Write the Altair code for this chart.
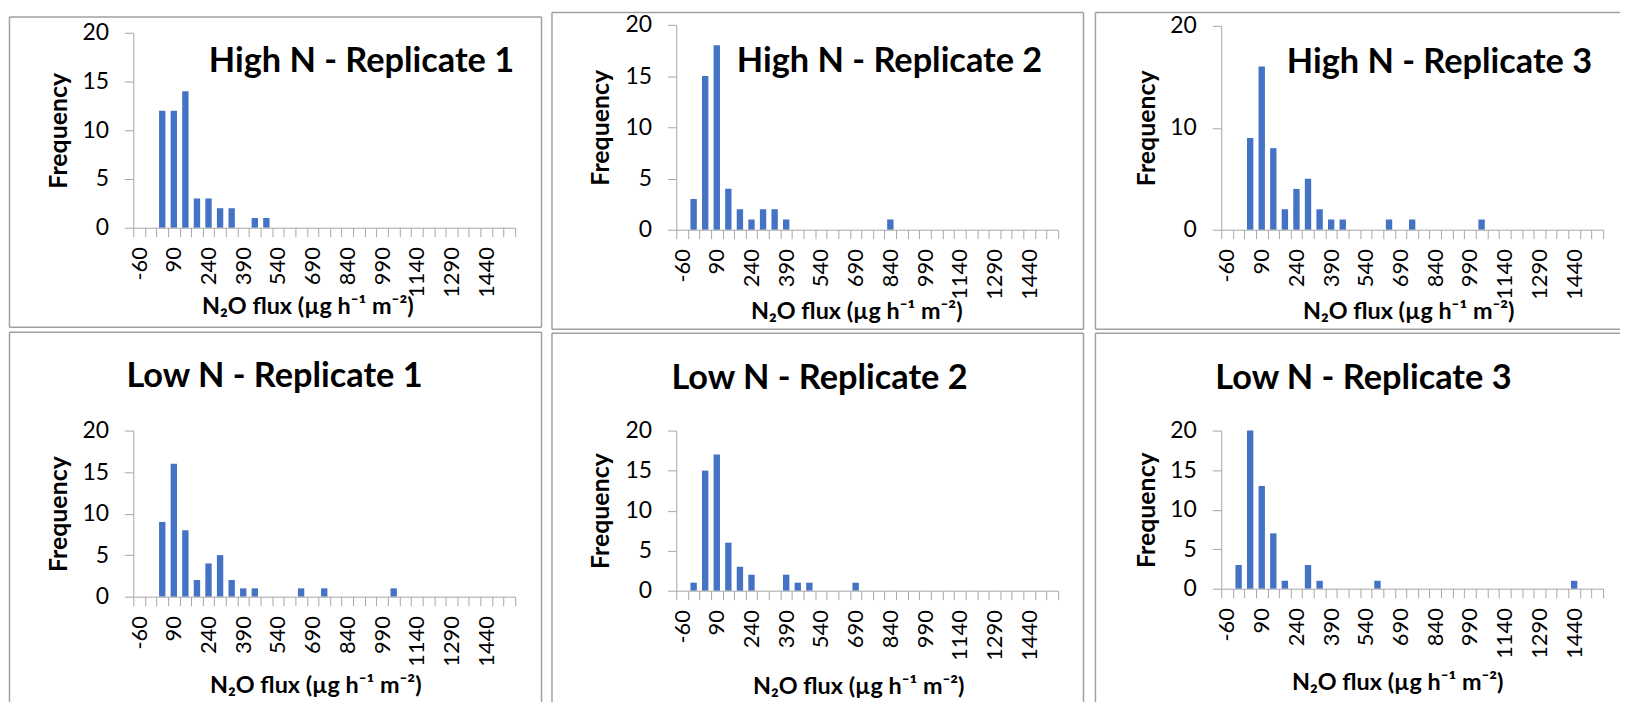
import altair as alt
import pandas as pd

# ---------------- data ----------------
categories = ["-60", "-10", "40", "90", "140", "190", "240", "290", "340", "390", "440",
              "490", "540", "590", "640", "690", "740", "790", "840", "890", "940", "990",
              "1040", "1090", "1140", "1190", "1240", "1290", "1340", "1390", "1440",
              "1490", "1540"]
tick_labels = ["-60", "90", "240", "390", "540", "690", "840", "990", "1140", "1290", "1440"]

y_ticks = [0, 5, 10, 15, 20]
y_ticks_wide = [0, 10, 20]

panel_titles = ["High N - Replicate 1", "High N - Replicate 2", "High N - Replicate 3",
                "Low N - Replicate 1", "Low N - Replicate 2", "Low N - Replicate 3"]

high_n_rep1 = [0, 0, 12, 12, 14, 3, 3, 2, 2, 0, 1, 1, 0, 0, 0, 0, 0, 0, 0, 0, 0, 0,
               0, 0, 0, 0, 0, 0, 0, 0, 0, 0, 0]
high_n_rep2 = [0, 3, 15, 18, 4, 2, 1, 2, 2, 1, 0, 0, 0, 0, 0, 0, 0, 0, 1, 0, 0, 0,
               0, 0, 0, 0, 0, 0, 0, 0, 0, 0, 0]
high_n_rep3 = [0, 0, 9, 16, 8, 2, 4, 5, 2, 1, 1, 0, 0, 0, 1, 0, 1, 0, 0, 0, 0, 0,
               1, 0, 0, 0, 0, 0, 0, 0, 0, 0, 0]
low_n_rep1 = [0, 0, 9, 16, 8, 2, 4, 5, 2, 1, 1, 0, 0, 0, 1, 0, 1, 0, 0, 0, 0, 0,
              1, 0, 0, 0, 0, 0, 0, 0, 0, 0, 0]
low_n_rep2 = [0, 1, 15, 17, 6, 3, 2, 0, 0, 2, 1, 1, 0, 0, 0, 1, 0, 0, 0, 0, 0, 0,
              0, 0, 0, 0, 0, 0, 0, 0, 0, 0, 0]
low_n_rep3 = [0, 3, 20, 13, 7, 1, 0, 3, 1, 0, 0, 0, 0, 1, 0, 0, 0, 0, 0, 0, 0, 0,
              0, 0, 0, 0, 0, 0, 0, 0, 1, 0, 0]

x_title = "N₂O flux (µg h⁻¹ m⁻²)"
y_title = "Frequency"

# ---------------- style / layout ----------------
FONT = "Lato"
BLUE = "#4472C4"
AXIS_GRAY = "#A6A6A6"
BOX_GRAY = "#A0A0A0"

# plot-area geometry and decorations, in pixels relative to each plot origin
layouts = [
    dict(w=384, h=196, slot=(-125, 415, -22, 298), box=(-124.5, 410.5, -16, 296), right=True, bottom=True,
         title=(383, 39, "right"), yt=-67, xt=(175, 86), yv="n"),
    dict(w=384, h=206, slot=(-131, 415, -13, 308), box=(-125, 409.5, -12.5, 306), right=True, bottom=True,
         title=(368, 47, "right"), yt=-68, xt=(181, 89), yv="n"),
    dict(w=384, h=205, slot=(-133, 401, -14, 306), box=(-126.5, 401, -13.5, 305), right=False, bottom=True,
         title=(373, 47, "right"), yt=-67.5, xt=(188, 89), yv="w"),
    dict(w=384, h=167, slot=(-125, 415, -100, 273), box=(-124.5, 410.5, -99, 273), right=True, bottom=False,
         title=(142, -44, "center"), yt=-67, xt=(183, 96), yv="n"),
    dict(w=384, h=161, slot=(-131, 415, -100, 273), box=(-125, 409.5, -98, 273), right=True, bottom=False,
         title=(144, -42, "center"), yt=-68, xt=(183, 103), yv="n"),
    dict(w=384, h=159, slot=(-133, 401, -100, 273), box=(-126.5, 401, -98, 273), right=False, bottom=False,
         title=(143, -42, "center"), yt=-67, xt=(177, 101), yv="n"),
]

label_expr = ("indexof([" + ",".join("'" + t + "'" for t in tick_labels) +
              "], datum.label) >= 0 ? datum.label : ''")

one = pd.DataFrame({"k": [0]})


def panel(title, counts, L):
    df = pd.DataFrame({"bin": categories, "count": counts})
    x = alt.X(
        "bin:O", sort=categories,
        scale=alt.Scale(domain=categories, paddingInner=0, paddingOuter=0),
        axis=alt.Axis(
            title=x_title, labelExpr=label_expr, labelAngle=-90, labelAlign="right",
            labelBaseline="middle", labelFont=FONT, labelFontSize=22, labelColor="black",
            labelPadding=10, labelOverlap=False, tickBand="extent", tickSize=9,
            tickColor=AXIS_GRAY, tickWidth=1, domainColor=AXIS_GRAY, domainWidth=1,
            titleFont=FONT, titleFontSize=23.5, titleFontWeight="bold", titleColor="black",
            titleX=L["xt"][0], titleY=L["xt"][1], titleAlign="center",
            titleBaseline="alphabetic", grid=False, zindex=2),
    )
    y = alt.Y(
        "count:Q",
        scale=alt.Scale(domain=[0, 20], nice=False),
        axis=alt.Axis(
            title=y_title, values=(y_ticks if L["yv"] == "n" else y_ticks_wide),
            labelFont=FONT, labelFontSize=23, labelColor="black", labelPadding=16,
            tickSize=9, tickColor=AXIS_GRAY, tickWidth=1, domainColor=AXIS_GRAY,
            domainWidth=1, grid=False, titleFont=FONT, titleFontSize=25,
            titleFontWeight="bold", titleColor="black", titleX=L["yt"], titleY=L["h"] / 2,
            titleAngle=-90, titleAlign="center", titleBaseline="alphabetic", zindex=2),
    )
    bars = alt.Chart(df).mark_bar(color=BLUE, width=alt.RelativeBandSize(0.55)).encode(x=x, y=y)

    sx1, sx2, sy1, sy2 = L["slot"]
    slot = alt.Chart(one).mark_rect(fill="white").encode(
        x=alt.value(sx1), x2=alt.value(sx2), y=alt.value(sy1), y2=alt.value(sy2))

    bx1, bx2, by1, by2 = L["box"]
    rule = dict(color=BOX_GRAY, strokeWidth=1.5)
    edges = [
        alt.Chart(one).mark_rule(**rule).encode(x=alt.value(bx1), x2=alt.value(bx2), y=alt.value(by1)),
        alt.Chart(one).mark_rule(**rule).encode(x=alt.value(bx1), y=alt.value(by1), y2=alt.value(by2)),
    ]
    if L["right"]:
        edges.append(alt.Chart(one).mark_rule(**rule).encode(
            x=alt.value(bx2), y=alt.value(by1), y2=alt.value(by2)))
    if L["bottom"]:
        edges.append(alt.Chart(one).mark_rule(**rule).encode(
            x=alt.value(bx1), x2=alt.value(bx2), y=alt.value(by2)))

    tx, ty, talign = L["title"]
    ttl = alt.Chart(one).mark_text(
        font=FONT, fontSize=34.5, fontWeight="bold", color="black", align=talign,
        baseline="alphabetic").encode(x=alt.value(tx), y=alt.value(ty), text=alt.value(title))

    return alt.layer(slot, *edges, bars, ttl).properties(width=L["w"], height=L["h"])


def spacer():
    # 1px invisible cell: lets each panel of the first row sit on its own top edge
    return alt.Chart(one).mark_rect(opacity=0).encode(
        x=alt.value(0), x2=alt.value(1), y=alt.value(0), y2=alt.value(1)).properties(width=1, height=1)


series = [high_n_rep1, high_n_rep2, high_n_rep3, low_n_rep1, low_n_rep2, low_n_rep3]
panels = [panel(t, s, L) for t, s, L in zip(panel_titles, series, layouts)]

row1 = alt.concat(spacer(), spacer(), spacer(), *panels[:3], columns=3, spacing=0,
                  align="none", bounds="full")
row2 = alt.concat(*panels[3:], columns=3, spacing=0, align="none", bounds="full")

chart = alt.vconcat(row1, row2, spacing=0).properties(padding=0).configure_view(stroke=None)

chart.save("out.html", embed_options={"renderer": "svg", "actions": False})
